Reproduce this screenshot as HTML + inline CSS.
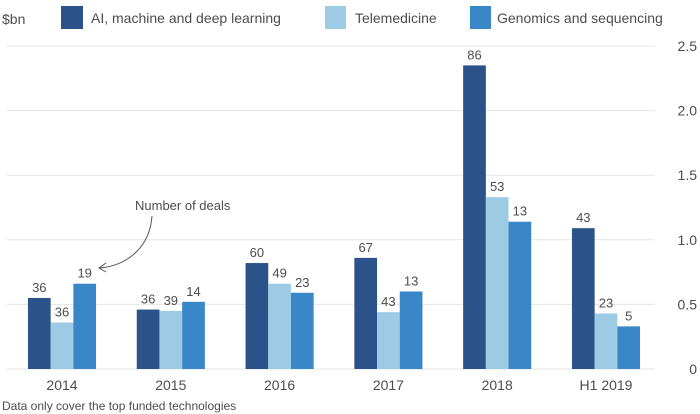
<!DOCTYPE html>
<html><head><meta charset="utf-8"><style>
html,body{margin:0;padding:0;background:#fff;}
svg{display:block;font-family:"Liberation Sans",sans-serif;}
</style></head><body>
<svg id="chart" width="700" height="414" viewBox="0 0 700 414">
<text x="2" y="24" font-size="14" fill="#4d4d4d">$bn</text>
<g>
<rect x="61" y="6" width="22" height="23" fill="#2b5289"/>
<text x="91" y="23" font-size="14" fill="#4d4d4d">AI, machine and deep learning</text>
<rect x="325" y="6" width="21" height="23" fill="#9ccbe3"/>
<text x="355" y="23" font-size="14" fill="#4d4d4d">Telemedicine</text>
<rect x="470" y="6" width="21" height="23" fill="#3a87c8"/>
<text x="497" y="23" font-size="14" fill="#4d4d4d">Genomics and sequencing</text>
</g>
<g id="grid"></g>
<g id="bars"></g>
<g>
<text x="135" y="210" font-size="13" fill="#4d4d4d">Number of deals</text>
<path d="M152,216 C150,245 130,265 100,268" fill="none" stroke="#555" stroke-width="1"/>
<path d="M106,263 L99,268 L106,272" fill="none" stroke="#555" stroke-width="1"/>
</g>
<text x="2" y="410" font-size="12" fill="#4d4d4d">Data only cover the top funded technologies</text>
</svg>
<script>
const categories = ["2014","2015","2016","2017","2018","H1 2019"];
const aiValues = [0.55,0.46,0.82,0.86,2.35,1.09];
const teleValues = [0.36,0.45,0.66,0.44,1.33,0.43];
const genoValues = [0.66,0.52,0.59,0.60,1.14,0.33];
const aiDeals = [36,36,60,67,86,43];
const teleDeals = [36,39,49,43,53,23];
const genoDeals = [19,14,23,13,13,5];
const yTicks = [0,0.5,1.0,1.5,2.0,2.5];
const yTickLabels = ["0","0.5","1.0","1.5","2.0","2.5"];

const NS="http://www.w3.org/2000/svg";
const y0=369, pxPerUnit=129.2;
function yScale(v){return y0-v*pxPerUnit;}
function xCenter(i){return 62+i*108.8;}
const bw=22.7;
const grid=document.getElementById('grid');
const bars=document.getElementById('bars');
function mk(tag,attrs,parent){const e=document.createElementNS(NS,tag);for(const k in attrs)e.setAttribute(k,attrs[k]);parent.appendChild(e);return e;}
yTicks.forEach((t,i)=>{
  const l=mk('line',{x1:7,x2:655,y1:yScale(t),y2:yScale(t),stroke:'#e8e4e1','stroke-width':1},grid);
  
  
  const tx=mk('text',{x:697,y:yScale(t)+5,'text-anchor':'end','font-size':14,fill:'#4d4d4d'},grid);
  tx.textContent=yTickLabels[i];
  
  
});
const series=[[aiValues,aiDeals,'#2b5289','ai'],[teleValues,teleDeals,'#9ccbe3','telemedicine'],[genoValues,genoDeals,'#3a87c8','genomics']];
categories.forEach((c,i)=>{
  const cx=xCenter(i);
  series.forEach((s,j)=>{
    const x=cx-1.5*bw+j*bw, v=s[0][i];
    const r=mk('rect',{x:x,y:yScale(v),width:bw,height:y0-yScale(v),fill:s[2]},bars);
    
    
    const t=mk('text',{x:x+bw/2,y:yScale(v)-6,'text-anchor':'middle','font-size':13,fill:'#4d4d4d'},bars);
    t.textContent=s[1][i];
    
    
  });
  const xl=mk('text',{x:cx,y:390,'text-anchor':'middle','font-size':14,fill:'#4d4d4d'},bars);
  xl.textContent=c;
  
  
});
</script>
</body></html>
